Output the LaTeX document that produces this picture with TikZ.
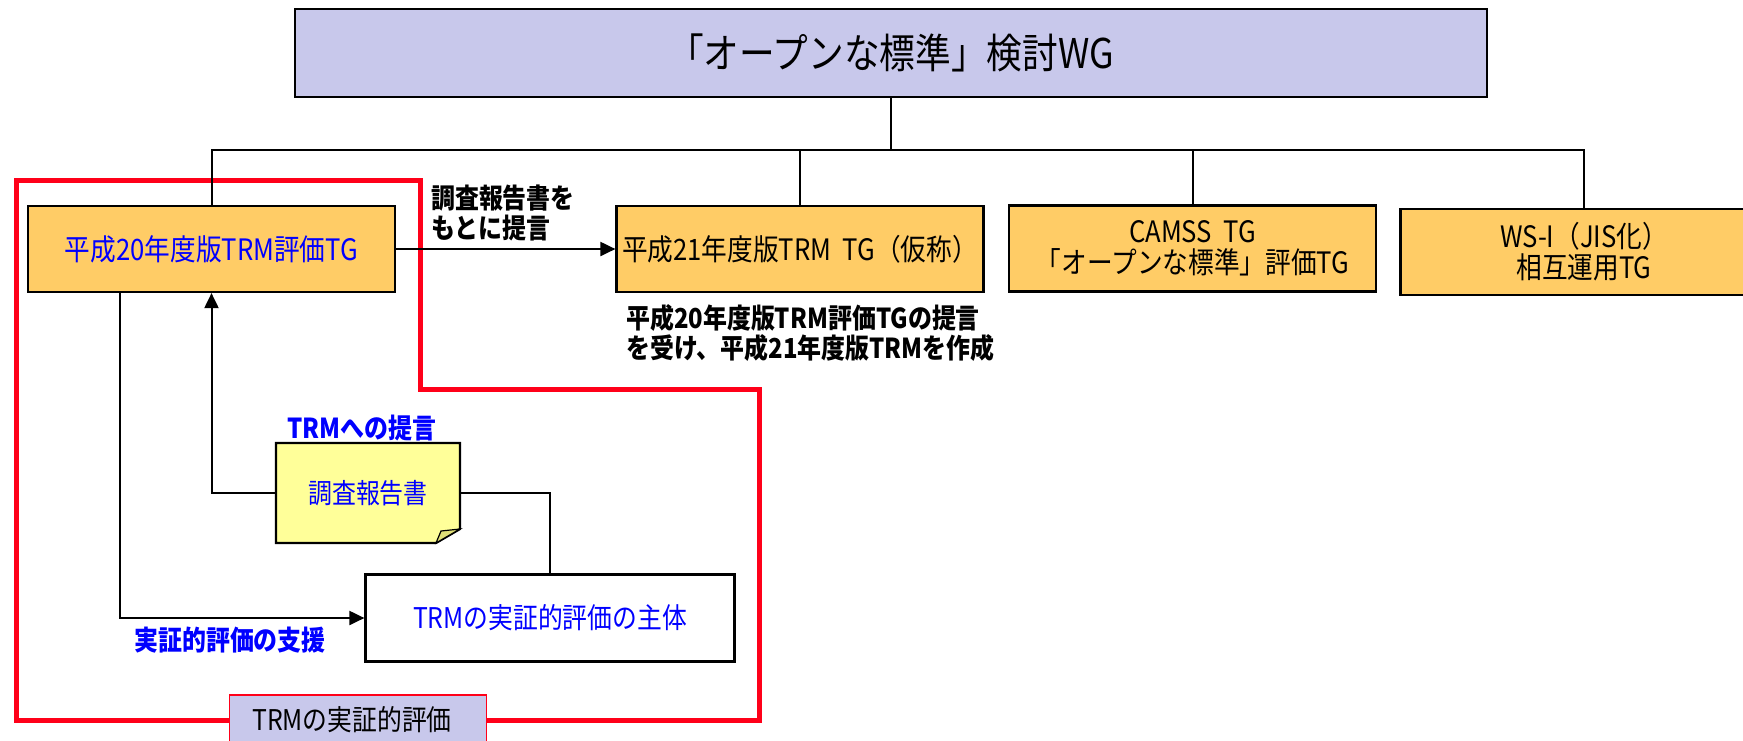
\documentclass[tikz,border=0pt]{standalone}
\usepackage{fontspec}
\setmainfont{Noto Sans CJK JP}[FakeStretch=0.87]
\usetikzlibrary{arrows.meta}
\definecolor{lav}{RGB}{200,200,235}
\definecolor{org}{RGB}{255,204,102}
\definecolor{notey}{RGB}{255,255,153}
\definecolor{noted}{RGB}{225,225,120}
\definecolor{rd}{RGB}{255,0,25}
\definecolor{bl}{RGB}{0,0,255}
\begin{document}
\begin{tikzpicture}[x=1pt,y=-1pt,
  box/.style={draw=black, line width=2.2pt, fill=org, minimum width=367pt, minimum height=86pt, inner sep=0pt, align=center, font=\fontsize{29.5}{31}\selectfont},
  conn/.style={line width=2pt},
  arr/.style={conn, -{Triangle[length=15pt,width=14pt]}},
  lbl/.style={font=\bfseries\fontsize{27.5}{30}\selectfont, inner sep=0pt, align=left},
]
\useasboundingbox (0,0) rectangle (1743,740);
% red frame
\draw[rd, line width=5pt] (16,180) -- (420,180) -- (420,389) -- (759,389) -- (759,720) -- (16,720) -- cycle;
\node[draw=rd, line width=1.2pt, fill=lav, minimum width=257pt, minimum height=50pt, inner sep=0pt, font=\fontsize{28.5}{30}\selectfont] (lb) at (358,720) {\hspace*{-12pt}TRMの実証的評価};
% top and tree
\node[box, fill=lav, minimum width=1192pt, minimum height=88pt, font=\fontsize{41}{44}\selectfont] (top) at (891,53) {「オープンな標準」検討WG};
\node[box, text=bl] (b1) at (211.5,249) {平成20年度版TRM評価TG};
\node[box] (b2) at (800,249) {平成21年度版TRM\ \ TG（仮称）};
\node[box] (b3) at (1192.5,248.5) {CAMSS\ \ TG\\「オープンな標準」評価TG};
\node[box] (b4) at (1584,252) {WS-I（JIS化）\\相互運用TG};
\coordinate (bus) at (891,150);
\draw[conn] (top.south) -- (bus);
\draw[conn] (b1.north) |- (bus);
\draw[conn] (b4.north) |- (bus);
\draw[conn] (b2.north) -- (b2.north |- bus);
\draw[conn] (b3.north) -- (b3.north |- bus);
\draw[arr] (b1.east) -- (b2.west);
\node[lbl, anchor=west] (lab1) at (431,213) {調査報告書を\\もとに提言};
\node[lbl, anchor=west] (lab2) at (626,333) {平成20年度版TRM評価TGの提言\\を受け、平成21年度版TRMを作成};
% note
\filldraw[fill=notey, draw=black, line width=2.2pt] (276,443) -- (460,443) -- (460,529) -- (436,543) -- (276,543) -- cycle;
\filldraw[fill=noted, draw=black, line width=1.2pt] (436,543) -- (441,531) -- (460,529) -- cycle;
\node[minimum width=184pt, minimum height=100pt, inner sep=0pt, text=bl, font=\fontsize{27.5}{30}\selectfont] (note) at (368,493) {調査報告書};
\node[lbl, text=bl] (lab3) at (362,428) {TRMへの提言};
% white box
\node[box, fill=white, minimum width=369pt, minimum height=87pt, text=bl, font=\fontsize{28.5}{30}\selectfont] (wb) at (550,618) {TRMの実証的評価の主体};
\draw[arr] (note.west) -| (b1.south);
\draw[conn] (note.east) -| (wb.north);
\draw[arr] ([xshift=93pt]b1.south west) |- (wb.west);
\node[lbl, text=bl] (lab4) at (230,640) {実証的評価の支援};
\end{tikzpicture}
\end{document}
